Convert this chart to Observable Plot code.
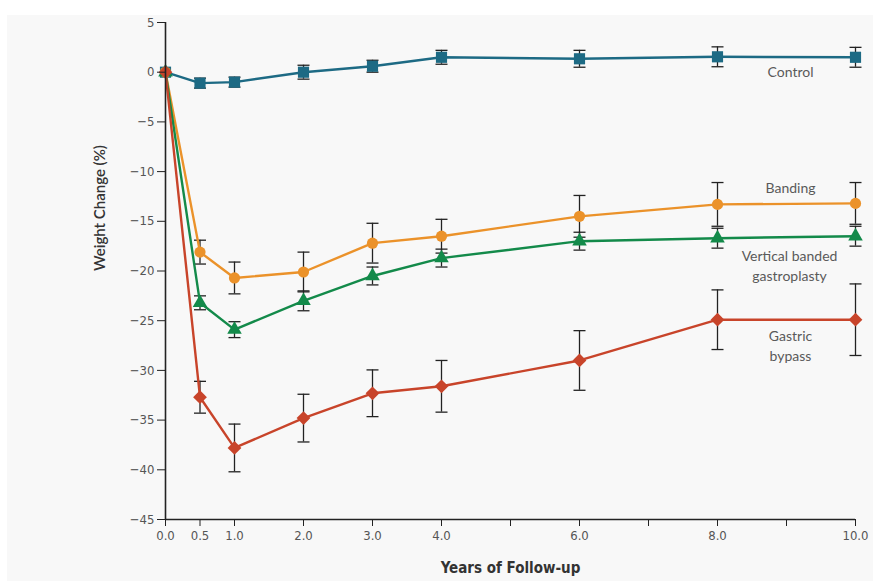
<!DOCTYPE html>
<html>
<head>
<meta charset="utf-8">
<script src="https://cdn.jsdelivr.net/npm/d3@7"></script>
<script src="https://cdn.jsdelivr.net/npm/@observablehq/plot@0.6"></script>
<style>
  html, body { margin: 0; padding: 0; background: #ffffff; }
  #wrap { position: relative; width: 873px; height: 581px; overflow: hidden; }
  #panel { position: absolute; left: 7px; top: 15px; right: 0; bottom: 0; background: #f8f8f8; }
  #chart { position: absolute; left: 0; top: 0; }
</style>
</head>
<body>
<div id="wrap"><div id="panel"></div><div id="chart"></div></div>
<script>
const years = [0, 0.5, 1, 2, 3, 4, 6, 8, 10];

const controlMean   = [0, -1.1, -1.0, 0.0, 0.6, 1.5, 1.35, 1.55, 1.5];
const controlErr    = [0, 0.5, 0.5, 0.7, 0.6, 0.7, 0.85, 1.0, 1.0];
const bandingMean   = [0, -18.1, -20.7, -20.1, -17.2, -16.5, -14.5, -13.3, -13.2];
const bandingErr    = [0, 1.2, 1.6, 2.0, 2.0, 1.7, 2.1, 2.2, 2.1];
const vbgMean       = [0, -23.2, -25.9, -23.0, -20.5, -18.7, -17.0, -16.7, -16.5];
const vbgErr        = [0, 0.7, 0.8, 1.0, 0.9, 0.9, 0.9, 1.0, 1.0];
const bypassMean    = [0, -32.7, -37.8, -34.8, -32.3, -31.6, -29.0, -24.9, -24.9];
const bypassErr     = [0, 1.6, 2.4, 2.4, 2.35, 2.6, 3.0, 3.0, 3.6];

const seriesNames   = ["Control", "Banding", "Vertical banded\ngastroplasty", "Gastric\nbypass"];
const seriesColors  = ["#1d6a84", "#eb922a", "#138a4a", "#c8442a"];
const seriesSymbols = ["square", "circle", "triangle", "diamond2"];
const seriesMeans   = [controlMean, bandingMean, vbgMean, bypassMean];
const seriesErrs    = [controlErr, bandingErr, vbgErr, bypassErr];
const labelDx       = [-65, -65, -66, -65];
const labelDy       = [13, -17, 28, 25];
const symbolR       = [6.3, 5.6, 5.4, 6.2];

const xTicks = [0, 0.5, 1, 2, 3, 4, 5, 6, 7, 8, 9, 10];
const xTickLabels = [0, 0.5, 1, 2, 3, 4, 6, 8, 10];
const yTicks = [5, 0, -5, -10, -15, -20, -25, -30, -35, -40, -45];

const rows = [];
seriesNames.forEach((name, s) => {
  years.forEach((yr, i) => {
    rows.push({series: s, name, x: yr, y: seriesMeans[s][i], lo: seriesMeans[s][i] - seriesErrs[s][i], hi: seriesMeans[s][i] + seriesErrs[s][i], err: seriesErrs[s][i]});
  });
});
const errRows = rows.filter(d => d.err > 0);
const lastRows = seriesNames.map((name, s) => rows.filter(d => d.series === s).at(-1));

const capSymbol = {
  draw(context, size) {
    const r = Math.sqrt(size / Math.PI);
    context.moveTo(-r, 0);
    context.lineTo(r, 0);
  }
};

const tickFont = "'Liberation Sans Narrow', 'DejaVu Sans Condensed', 'Liberation Sans', sans-serif";
const labelFont = "Lato, 'Open Sans', sans-serif";

const marks = [];
// error bars
marks.push(Plot.ruleX(errRows, {x: "x", y1: "lo", y2: "hi", stroke: "#222", strokeWidth: 1.3}));
marks.push(Plot.dot(errRows, {x: "x", y: "lo", symbol: capSymbol, r: 6, stroke: "#222", strokeWidth: 1.3, fill: "none"}));
marks.push(Plot.dot(errRows, {x: "x", y: "hi", symbol: capSymbol, r: 6, stroke: "#222", strokeWidth: 1.3, fill: "none"}));
// lines
[1, 2, 3, 0].forEach(s => {
  const data = rows.filter(d => d.series === s);
  marks.push(Plot.line(data, {x: "x", y: "y", stroke: seriesColors[s], strokeWidth: 2.4}));
});
// markers
[0, 1, 2, 3].forEach(s => {
  const data = rows.filter(d => d.series === s);
  marks.push(Plot.dot(data, {x: "x", y: "y", symbol: seriesSymbols[s], r: symbolR[s], fill: seriesColors[s], stroke: "none"}));
});
// series labels
lastRows.forEach((d, s) => {
  marks.push(Plot.text([d], {x: "x", y: "y", text: "name", dx: labelDx[s], dy: labelDy[s], fill: "#5a5a5a", fontSize: 14, lineHeight: 1.45, textAnchor: "middle", fontFamily: labelFont}));
});
// axes
marks.push(Plot.axisX({ticks: xTicks, tickSize: 7, tickPadding: 4, tickFormat: d => xTickLabels.includes(d) ? d.toFixed(1) : "", fontSize: 13, fill: "#555", stroke: "#222", label: null, fontFamily: tickFont}));
marks.push(Plot.axisY({ticks: yTicks, tickSize: 8, tickPadding: 3, tickFormat: d => d < 0 ? "\u2212" + Math.abs(d) : String(d), fontSize: 13, fill: "#555", stroke: "#222", label: null, fontFamily: tickFont}));
marks.push(Plot.ruleX([0], {stroke: "#222", strokeWidth: 1.6}));
marks.push(Plot.ruleY([-45], {stroke: "#222", strokeWidth: 1.6}));
// axis titles
marks.push(Plot.text(["Weight Change (%)"], {frameAnchor: "left", dx: -65, rotate: -90, fill: "#333", fontSize: 15, fontWeight: 600, fontFamily: labelFont}));
marks.push(Plot.text(["Years of Follow-up"], {frameAnchor: "bottom", dy: 53, fill: "#333", fontSize: 15, fontWeight: 600, fontFamily: tickFont}));

const chart = Plot.plot({
  width: 873,
  height: 581,
  marginLeft: 165,
  marginRight: 18,
  marginTop: 22,
  marginBottom: 62,
  style: {background: "transparent", overflow: "visible"},
  x: {domain: [0, 10]},
  y: {domain: [-45, 5]},
  marks
});
document.getElementById("chart").appendChild(chart);
</script>
</body>
</html>
